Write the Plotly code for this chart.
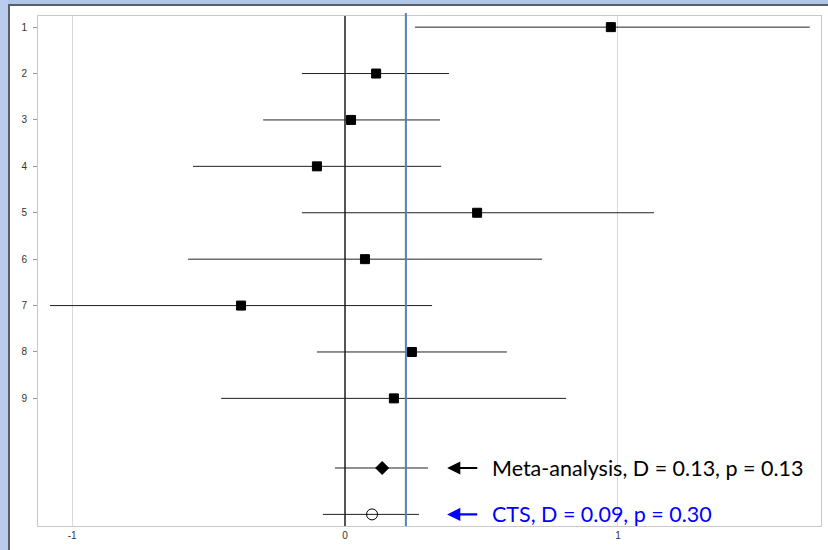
import plotly.graph_objects as go

# ---- data ----
study_ids = [1, 2, 3, 4, 5, 6, 7, 8, 9]
effects = [0.974, 0.114, 0.022, -0.103, 0.484, 0.073, -0.381, 0.245, 0.179]
ci_low = [0.256, -0.158, -0.300, -0.557, -0.158, -0.575, -1.081, -0.103, -0.454]
ci_high = [1.703, 0.381, 0.348, 0.352, 1.132, 0.722, 0.319, 0.593, 0.810]

meta_y = [10.5]
meta_d = [0.136]
meta_low = [-0.037]
meta_high = [0.304]

cts_y = [11.5]
cts_d = [0.099]
cts_low = [-0.081]
cts_high = [0.271]

ref_line = 0.223
x_ticks = [-1, 0, 1]
y_ticks = [1, 2, 3, 4, 5, 6, 7, 8, 9]
meta_label = "Meta-analysis, D = 0.13, p = 0.13"
cts_label = "CTS, D = 0.09, p = 0.30"

# ---- layout constants ----
W, H = 828, 550
L, R, T, B = 38, 7, 16, 24
PW, PH = W - L - R, H - T - B

def px_x(p):
    return (p - L) / PW

def px_y(p):
    return (H - B - p) / PH

fig = go.Figure()

def add_series(x, y, lo, hi, symbol, size, fill):
    fig.add_trace(go.Scatter(
        x=x, y=y, mode="markers",
        marker=dict(symbol=symbol, size=size, color=fill,
                    line=dict(color="black", width=1)),
        error_x=dict(type="data", symmetric=False,
                     array=[h - v for h, v in zip(hi, x)],
                     arrayminus=[v - l for l, v in zip(lo, x)],
                     color="#222222", thickness=1, width=0),
        showlegend=False, hoverinfo="skip"))

add_series(effects, study_ids, ci_low, ci_high, "square", 9, "black")
add_series(meta_d, meta_y, meta_low, meta_high, "diamond", 10, "black")
add_series(cts_d, cts_y, cts_low, cts_high, "circle-open", 11, "black")

shapes = [
    # outer frame
    dict(type="rect", xref="paper", yref="paper", x0=px_x(-5), x1=px_x(W + 5),
         y0=px_y(5), y1=px_y(-5), fillcolor="#AFC5EA", line_width=0, layer="below"),
    dict(type="rect", xref="paper", yref="paper", x0=px_x(-5), x1=px_x(8.5),
         y0=px_y(H + 5), y1=px_y(-5), fillcolor="#B9CCEC", line_width=0, layer="below"),
    dict(type="line", xref="paper", yref="paper", x0=px_x(8.5), x1=px_x(W + 5),
         y0=px_y(5), y1=px_y(5), line=dict(color="#5A5F66", width=2)),
    dict(type="line", xref="paper", yref="paper", x0=px_x(9), x1=px_x(9),
         y0=px_y(H + 5), y1=px_y(4), line=dict(color="#5A5F66", width=2)),
    # reference line
    dict(type="line", xref="x", yref="paper", x0=ref_line, x1=ref_line, y0=0, y1=1.006,
         line=dict(color="#4F81BD", width=2)),
]

annotations = [
    dict(x=0.374, y=meta_y[0], xref="x", yref="y", ax=0.49, ay=meta_y[0], axref="x", ayref="y",
         showarrow=True, arrowhead=2, arrowsize=1.2, arrowwidth=2.2, arrowcolor="black", text=""),
    dict(x=0.374, y=cts_y[0], xref="x", yref="y", ax=0.49, ay=cts_y[0], axref="x", ayref="y",
         showarrow=True, arrowhead=2, arrowsize=1.2, arrowwidth=2.2, arrowcolor="#0000FF", text=""),
    dict(x=0.531, y=meta_y[0], xref="x", yref="y", text=meta_label, showarrow=False,
         xanchor="left", yanchor="middle", font=dict(family="Lato", size=21.5, color="black")),
    dict(x=0.531, y=cts_y[0], xref="x", yref="y", text=cts_label, showarrow=False,
         xanchor="left", yanchor="middle", font=dict(family="Lato", size=21.5, color="#0000FF")),
]

fig.update_layout(
    width=W, height=H,
    margin=dict(l=L, r=R, t=T, b=B, pad=0),
    paper_bgcolor="white", plot_bgcolor="white",
    shapes=shapes, annotations=annotations,
    hovermode=False,
    xaxis=dict(range=[-1.125, 1.744], tickvals=x_ticks, ticktext=[str(v) for v in x_ticks],
               showgrid=True, gridcolor="#D9D9D9", gridwidth=1,
               zeroline=True, zerolinecolor="#555555", zerolinewidth=1.5,
               showline=True, linecolor="#C8C8C8", linewidth=1, mirror=True,
               ticks="", tickfont=dict(family="Liberation Sans", size=10, color="#333333")),
    yaxis=dict(range=[11.75, 0.76], tickvals=y_ticks, ticktext=[str(v) for v in y_ticks],
               showgrid=False, zeroline=False,
               showline=True, linecolor="#C8C8C8", linewidth=1, mirror=True,
               ticks="outside", ticklen=4, tickcolor="#999999", ticklabelstandoff=4,
               tickfont=dict(family="Liberation Sans", size=10, color="#333333")),
)

fig.write_html("out.html", config={"displayModeBar": False, "staticPlot": True},
               post_script="document.body.style.margin='0';document.body.style.overflow='hidden';")
